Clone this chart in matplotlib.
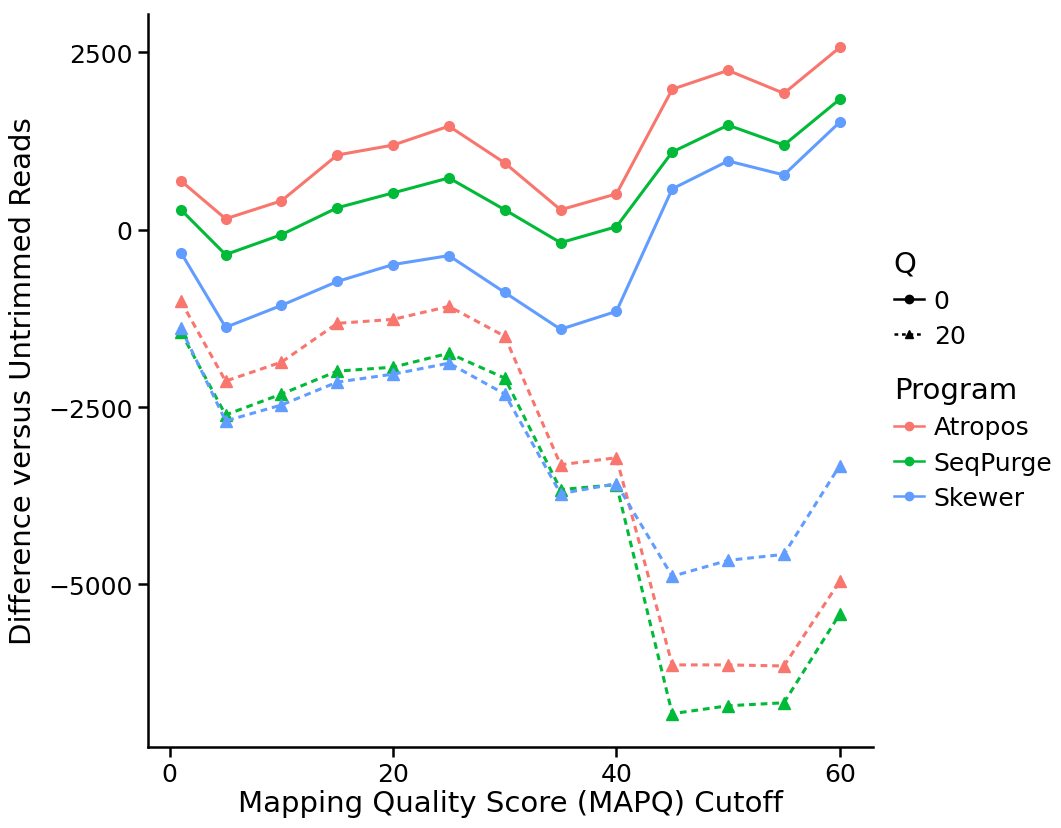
import numpy as np
import matplotlib
matplotlib.use('Agg')
import matplotlib.pyplot as plt
from matplotlib.lines import Line2D

plt.rcParams['font.family'] = ['DejaVu Sans']

mapq = [1, 5, 10, 15, 20, 25, 30, 35, 40, 45, 50, 55, 60]
programs = ['Atropos', 'SeqPurge', 'Skewer']
colors = ['#F8766D', '#00BA38', '#619CFF']

# Q = 0
atropos_q0 = [688, 154, 407, 1053, 1193, 1460, 941, 281, 505, 1980, 2246, 1923, 2569]
seqpurge_q0 = [281, -351, -70, 309, 519, 730, 281, -183, 42, 1095, 1474, 1193, 1839]
skewer_q0 = [-323, -1376, -1067, -730, -491, -365, -885, -1404, -1151, 576, 969, 772, 1516]
# Q = 20
atropos_q20 = [-1011, -2134, -1867, -1320, -1264, -1081, -1502, -3313, -3215, -6135, -6135, -6150, -4956]
seqpurge_q20 = [-1446, -2611, -2317, -1994, -1938, -1741, -2092, -3664, -3594, -6823, -6711, -6669, -5419]
skewer_q20 = [-1390, -2696, -2471, -2148, -2036, -1881, -2317, -3721, -3580, -4886, -4661, -4577, -3327]

q0 = [atropos_q0, seqpurge_q0, skewer_q0]
q20 = [atropos_q20, seqpurge_q20, skewer_q20]

fig = plt.figure(figsize=(10.61, 8.29), dpi=100)
ax = fig.add_axes([0.1395, 0.0977, 0.683, 0.884])

for vals, c in zip(q0, colors):
    ax.plot(mapq, vals, color=c, lw=2.2, marker='o', ms=7, zorder=3)
for vals, c in zip(q20, colors):
    ax.plot(mapq, vals, color=c, lw=2.2, ls=(0, (2.2, 1.6)), marker='^', ms=8, zorder=3)

allv = np.concatenate([np.ravel(q0), np.ravel(q20)])
rng = allv.max() - allv.min()
ax.set_ylim(allv.min() - 0.05 * rng, allv.max() + 0.05 * rng)
ax.set_xlim(1 - 0.05 * 59, 60 + 0.05 * 59)
ax.set_xticks([0, 20, 40, 60])
ax.set_yticks([2500, 0, -2500, -5000])
ax.set_yticklabels(['2500', '0', '\u22122500', '\u22125000'])

for s in ['top', 'right']:
    ax.spines[s].set_visible(False)
for s in ['left', 'bottom']:
    ax.spines[s].set_linewidth(1.8)
ax.tick_params(width=1.8, length=7, labelsize=18, colors='black', pad=4)

ax.set_xlabel('Mapping Quality Score (MAPQ) Cutoff', fontsize=21, labelpad=2)
ax.set_ylabel('Difference versus Untrimmed Reads', fontsize=21, labelpad=8)

q_handles = [Line2D([], [], color='black', lw=1.8, marker='o', ms=6),
             Line2D([], [], color='black', lw=1.8, ls=(0, (1.5, 1.5)), marker='^', ms=6)]
leg1 = fig.legend(q_handles, ['0', '20'], title='Q', loc='upper left',
                  bbox_to_anchor=(0.833, 0.710), frameon=False, fontsize=18,
                  title_fontsize=21, handlelength=1.2, handletextpad=0.4,
                  labelspacing=0.45, borderaxespad=0)
leg1._legend_box.align = 'left'

p_handles = [Line2D([], [], color=c, lw=1.8, marker='o', ms=6) for c in colors]
leg2 = fig.legend(p_handles, programs, title='Program', loc='upper left',
                  bbox_to_anchor=(0.833, 0.557), frameon=False, fontsize=18,
                  title_fontsize=21, handlelength=1.2, handletextpad=0.4,
                  labelspacing=0.45, borderaxespad=0)
leg2._legend_box.align = 'left'

fig.savefig('out.png', dpi=100)
